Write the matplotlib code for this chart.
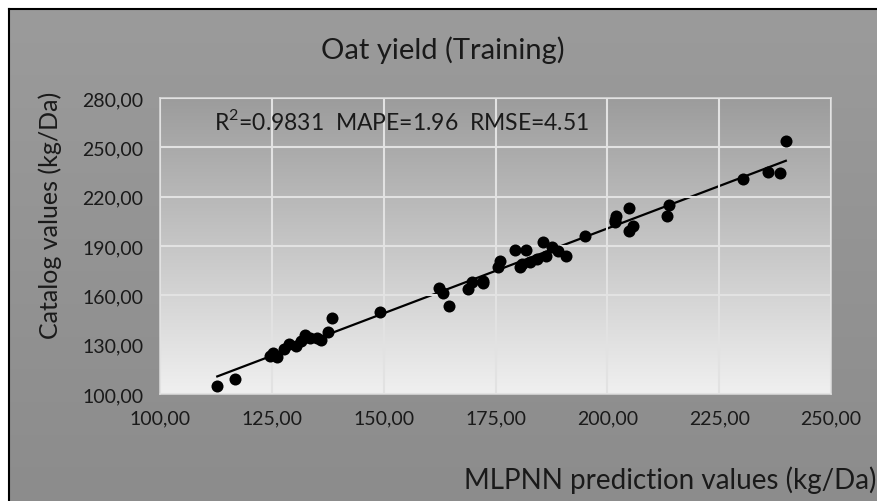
import numpy as np
import matplotlib
matplotlib.use("Agg")
import matplotlib.pyplot as plt
from matplotlib.colors import LinearSegmentedColormap

# ---- data ----
x_pred = [112.8, 116.7, 124.5, 125.3, 126.1, 127.7, 128.9, 130.4, 131.5, 132.4,
          133.5, 135.0, 136.0, 137.5, 138.5, 149.2,
          162.4, 163.3, 164.7, 168.8, 169.7, 172.1, 172.3, 175.6, 176.0,
          179.4, 181.8, 180.5, 180.9, 182.7, 184.2, 185.7, 186.4, 187.6,
          189.0, 190.8, 195.0, 201.7, 201.9, 201.7, 204.8, 205.8, 204.9,
          213.7, 213.3, 230.4, 236.0, 238.6, 239.9]
y_cat = [104.7, 108.9, 123.3, 124.8, 122.3, 127.4, 130.4, 128.9, 132.4, 135.9,
         133.8, 133.8, 132.8, 137.5, 146.0, 149.6,
         164.3, 161.2, 153.7, 163.9, 168.3, 168.9, 167.5, 177.0, 181.1,
         187.7, 187.7, 177.0, 179.1, 180.1, 182.1, 192.6, 184.2, 189.2,
         187.1, 184.2, 196.3, 204.3, 208.4, 206.0, 212.9, 202.3, 199.3,
         215.1, 208.4, 230.7, 234.8, 234.4, 253.9]
x_ticks = [100, 125, 150, 175, 200, 225, 250]
y_ticks = [100, 130, 160, 190, 220, 250, 280]
title = "Oat yield (Training)"
xlabel = "MLPNN prediction values (kg/Da)"
ylabel = "Catalog values (kg/Da)"
stats = "R$^2$=0.9831  MAPE=1.96  RMSE=4.51"

plt.rcParams['font.family'] = ['Lato', 'DejaVu Sans']
plt.rcParams['mathtext.fontset'] = 'custom'
plt.rcParams['mathtext.rm'] = 'Lato'
W, H = 877, 502
fig = plt.figure(figsize=(W / 100, H / 100), dpi=100)
fig.patch.set_facecolor('white')

# outer panel with gradient
bg = fig.add_axes([9 / W, 0, (W - 9) / W, (H - 10) / H])
bg.set_xlim(0, 1); bg.set_ylim(0, 1)
grad = np.linspace(0, 1, 256).reshape(-1, 1)
cm_out = LinearSegmentedColormap.from_list('o', ['#8c8c8c', '#9b9b9b'])
bg.imshow(grad, extent=[0, 1, 0, 1], aspect='auto', cmap=cm_out, origin='lower')
for s in bg.spines.values():
    s.set_visible(False)
bg.spines['left'].set_visible(True)
bg.spines['top'].set_visible(True)
bg.spines['left'].set_linewidth(1.5)
bg.spines['top'].set_linewidth(1.5)
bg.set_xticks([]); bg.set_yticks([])

# plot area
L, R, T, B = 160, 831, 99, 395
ax = fig.add_axes([L / W, (H - B) / H, (R - L) / W, (B - T) / H])
ax.set_xlim(100, 250)
ax.set_ylim(100, 280)
cm_in = LinearSegmentedColormap.from_list('i', ['#f0f0f0', '#9c9c9c'])
ax.imshow(grad, extent=[100, 250, 100, 280], aspect='auto', cmap=cm_in,
          origin='lower', zorder=0)
ax.set_xticks(x_ticks)
ax.set_yticks(y_ticks)
ax.set_xticklabels([f"{v:.2f}".replace('.', ',') for v in x_ticks])
ax.set_yticklabels([f"{v:.2f}".replace('.', ',') for v in y_ticks])
ax.grid(True, color='#e2e2e2', linewidth=1.5, zorder=1)
ax.set_axisbelow(False)
ax.tick_params(length=0, labelsize=14, colors='#1a1a1a')
ax.tick_params(axis='y', pad=12)
ax.tick_params(axis='x', pad=11)
for s in ax.spines.values():
    s.set_color('#d8d8d8')
    s.set_linewidth(1.2)

# trend line
xa = np.array(x_pred); ya = np.array(y_cat)
k, b = np.polyfit(xa, ya, 1)
xx = np.array([xa.min(), xa.max()])
ax.plot(xx, k * xx + b, color='black', linewidth=1.6, zorder=2)
ax.scatter(xa, ya, s=75, color='black', zorder=3, linewidths=0)

ax.text(0.08, 0.925, stats, transform=ax.transAxes, fontsize=16.5,
        color='#1a1a1a', va='center', ha='left', zorder=4)

fig.text(443 / W, 1 - 50 / H, title, ha='center', va='center', fontsize=21,
         color='#1a1a1a')
fig.text(876 / W, 1 - 480 / H, xlabel, ha='right', va='center', fontsize=20,
         color='#1a1a1a')
fig.text(50 / W, 1 - 215 / H, ylabel, ha='center', va='center', fontsize=18,
         rotation=90, color='#1a1a1a')

fig.savefig('out.png', dpi=100)
